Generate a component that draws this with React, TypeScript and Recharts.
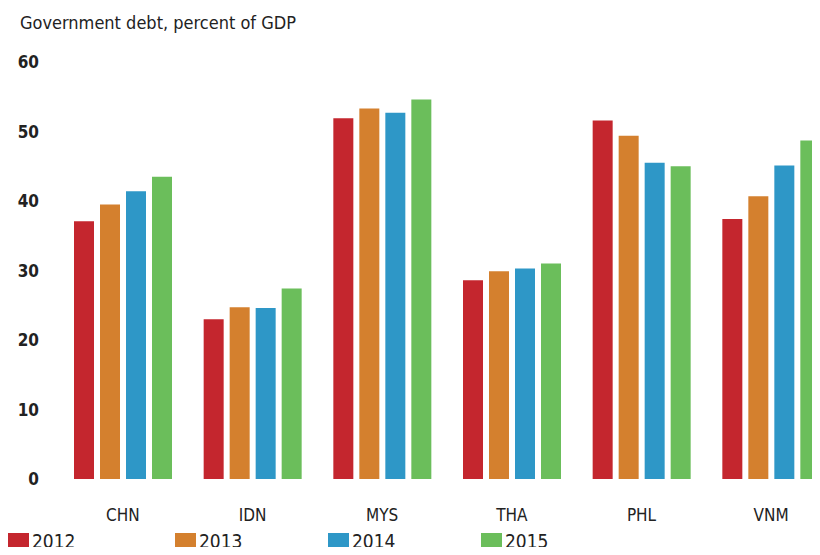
import { BarChart, Bar, XAxis, YAxis } from 'recharts';

const countries = ['CHN', 'IDN', 'MYS', 'THA', 'PHL', 'VNM'];
const debt2012 = [37.1, 23.0, 51.9, 28.6, 51.6, 37.4];
const debt2013 = [39.5, 24.7, 53.3, 29.9, 49.4, 40.7];
const debt2014 = [41.4, 24.6, 52.7, 30.3, 45.5, 45.1];
const debt2015 = [43.5, 27.4, 54.6, 31.0, 45.0, 48.7];
const yTicks = [0, 10, 20, 30, 40, 50, 60];

const series = [
  { key: 'y2012', label: '2012', color: '#C4262E' },
  { key: 'y2013', label: '2013', color: '#D4802E' },
  { key: 'y2014', label: '2014', color: '#2E97C7' },
  { key: 'y2015', label: '2015', color: '#6BBE5B' },
];

const data = countries.map((c, i) => ({
  country: c,
  y2012: debt2012[i],
  y2013: debt2013[i],
  y2014: debt2014[i],
  y2015: debt2015[i],
}));

const condensed = '"DejaVu Sans Condensed", "DejaVu Sans", sans-serif';
const legendLeft = [8, 175, 328, 481];

const YTick = ({ y, payload }: any) => (
  <text x={39} y={y} dy={6} textAnchor="end" fontFamily={condensed} fontSize={17} fontWeight="bold" fill="#222">
    {payload.value}
  </text>
);

const XTick = ({ x, y, payload }: any) => (
  <text x={x} y={y} dy={34} textAnchor="middle" fontFamily={condensed} fontSize={17} fill="#222">
    {payload.value}
  </text>
);

export default function App() {
  return (
    <div style={{ position: 'relative', width: 820, height: 555, overflow: 'hidden', margin: -8, background: '#fff' }}>
      <div style={{ position: 'absolute', left: 20, top: 11, lineHeight: '24px', fontFamily: condensed, fontSize: 18, color: '#222' }}>
        Government debt, percent of GDP
      </div>
      <BarChart
        width={840}
        height={555}
        data={data}
        margin={{ top: 62, right: 4, left: 0, bottom: 0 }}
        barSize={20}
        barGap={6}
      >
        <XAxis dataKey="country" axisLine={false} tickLine={false} height={76} tick={<XTick />} interval={0} />
        <YAxis domain={[0, 60]} ticks={yTicks} axisLine={false} tickLine={false} width={58} tick={<YTick />} />
        {series.map((s) => (
          <Bar key={s.key} dataKey={s.key} fill={s.color} isAnimationActive={false} />
        ))}
      </BarChart>
      {series.map((s, i) => (
        <div key={s.key} style={{ position: 'absolute', left: legendLeft[i], top: 529, height: 24, width: 150 }}>
          <span style={{ position: 'absolute', left: 0, top: 4, width: 21, height: 19, background: s.color }} />
          <span style={{ position: 'absolute', left: 24, top: 0, lineHeight: '24px', fontFamily: condensed, fontSize: 19, color: '#222' }}>
            {s.label}
          </span>
        </div>
      ))}
    </div>
  );
}
